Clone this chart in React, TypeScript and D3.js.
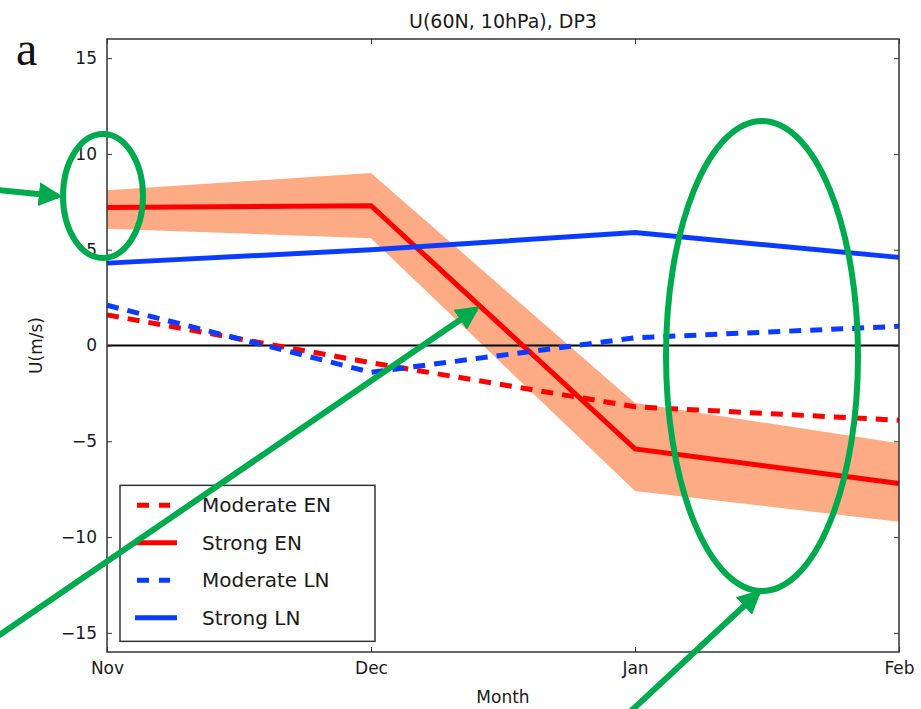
import React, { useEffect, useRef } from 'react';
import * as d3 from 'd3';

// data
const months = ['Nov', 'Dec', 'Jan', 'Feb'];
const moderateEN = [1.6, -0.9, -3.2, -3.9];
const strongEN = [7.2, 7.3, -5.4, -7.2];
const strongENUpper = [8.1, 9.0, -3.0, -5.1];
const strongENLower = [6.1, 5.6, -7.6, -9.2];
const moderateLN = [2.1, -1.4, 0.4, 1.0];
const strongLN = [4.3, 5.0, 5.9, 4.6];
const yTicks = [-15, -10, -5, 0, 5, 10, 15];

const RED = '#ff0000';
const BLUE = '#0a3cff';
const BAND = '#fdab85';
const GREEN = '#00ab4e';
const FONT = 'DejaVu Sans, sans-serif';

export default function App() {
  const ref = useRef<SVGSVGElement>(null);

  useEffect(() => {
    const svg = d3.select(ref.current);
    svg.selectAll('*').remove();

    const margin = { top: 39, right: 22, bottom: 57, left: 107 };
    const width = 921 - margin.left - margin.right;
    const height = 709 - margin.top - margin.bottom;

    const x = d3.scaleLinear().domain([0, months.length - 1]).range([0, width]);
    const y = d3.scaleLinear().domain([-16, 16]).range([height, 0]);

    const g = svg.append('g').attr('transform', `translate(${margin.left},${margin.top})`);

    // spread band of Strong EN
    const area = d3.area<number>()
      .x((d, i) => x(i))
      .y0((d, i) => y(strongENLower[i]))
      .y1((d) => y(d));
    g.append('path').datum(strongENUpper).attr('d', area).attr('fill', BAND);

    // zero line
    g.append('line')
      .attr('x1', 0).attr('x2', width)
      .attr('y1', y(0)).attr('y2', y(0))
      .attr('stroke', '#000').attr('stroke-width', 2);

    const line = d3.line<number>().x((d, i) => x(i)).y((d) => y(d));
    const series = [
      { name: 'Moderate EN', values: moderateEN, color: RED, dash: '12 9' },
      { name: 'Strong EN', values: strongEN, color: RED, dash: null },
      { name: 'Moderate LN', values: moderateLN, color: BLUE, dash: '12 9' },
      { name: 'Strong LN', values: strongLN, color: BLUE, dash: null },
    ];
    series.forEach((s) => {
      g.append('path').datum(s.values).attr('d', line)
        .attr('fill', 'none').attr('stroke', s.color).attr('stroke-width', 5)
        .attr('stroke-dasharray', s.dash);
    });

    // axes, inward ticks on all sides
    const axisStyle = (sel: any) => {
      sel.select('.domain').remove();
      sel.selectAll('text').attr('font-family', FONT).attr('font-size', 17).attr('fill', '#1a1a1a');
      sel.selectAll('line').attr('stroke', '#333');
    };
    g.append('g').attr('transform', `translate(0,${height})`)
      .call(d3.axisBottom(x).tickValues([0, 1, 2, 3]).tickFormat((d: any) => months[d]).tickSizeInner(-5).tickPadding(10))
      .call(axisStyle);
    g.append('g')
      .call(d3.axisTop(x).tickValues([0, 1, 2, 3]).tickFormat(() => '').tickSizeInner(-5))
      .call(axisStyle);
    g.append('g')
      .call(d3.axisLeft(y).tickValues(yTicks).tickFormat((d: any) => (d < 0 ? '\u2212' + Math.abs(d) : String(d))).tickSizeInner(-5).tickPadding(10))
      .call(axisStyle);
    g.append('g').attr('transform', `translate(${width},0)`)
      .call(d3.axisRight(y).tickValues(yTicks).tickFormat(() => '').tickSizeInner(-5))
      .call(axisStyle);

    g.append('rect').attr('width', width).attr('height', height)
      .attr('fill', 'none').attr('stroke', '#333').attr('stroke-width', 1.5);

    // labels
    svg.append('text').attr('x', margin.left + width / 2).attr('y', 28)
      .attr('text-anchor', 'middle').attr('font-family', FONT).attr('font-size', 19).attr('fill', '#1a1a1a')
      .text('U(60N, 10hPa), DP3');
    svg.append('text').attr('x', margin.left + width / 2).attr('y', 703)
      .attr('text-anchor', 'middle').attr('font-family', FONT).attr('font-size', 17).attr('fill', '#1a1a1a')
      .text('Month');
    svg.append('text').attr('transform', `translate(42,${margin.top + y(0)}) rotate(-90)`)
      .attr('text-anchor', 'middle').attr('font-family', FONT).attr('font-size', 17).attr('fill', '#1a1a1a')
      .text('U(m/s)');
    svg.append('text').attr('x', 16).attr('y', 65)
      .attr('font-family', 'Liberation Serif, serif').attr('font-size', 48).attr('fill', '#111')
      .text('a');

    // legend
    const lg = g.append('g').attr('transform', `translate(13,${y(-7.3)})`);
    lg.append('rect').attr('width', 255).attr('height', 156)
      .attr('fill', '#fff').attr('stroke', '#333').attr('stroke-width', 1.5);
    series.forEach((s, i) => {
      const row = lg.append('g').attr('transform', `translate(0,${20 + i * 37.5})`);
      row.append('line').attr('x1', s.dash ? 17 : 15).attr('x2', s.dash ? 50 : 57).attr('y1', 0).attr('y2', 0)
        .attr('stroke', s.color).attr('stroke-width', 5)
        .attr('stroke-dasharray', s.dash ? '12 10' : null);
      row.append('text').attr('x', 82).attr('y', 7)
        .attr('font-family', FONT).attr('font-size', 20).attr('fill', '#1a1a1a')
        .text(s.name);
    });

    // green annotations
    const ann = svg.append('g').attr('stroke', GREEN).attr('fill', 'none').attr('stroke-width', 6);
    svg.append('defs').append('marker')
      .attr('id', 'arrow').attr('viewBox', '0 0 10 10').attr('refX', 8).attr('refY', 5)
      .attr('markerWidth', 4).attr('markerHeight', 4).attr('orient', 'auto')
      .append('path').attr('d', 'M0,0 L10,5 L0,10 Z').attr('fill', GREEN);
    ann.append('ellipse').attr('cx', 103).attr('cy', 196).attr('rx', 40).attr('ry', 62);
    ann.append('ellipse').attr('cx', 762).attr('cy', 356).attr('rx', 96).attr('ry', 235);
    const arrows = [
      [[-2, 190], [58, 196]],
      [[-2, 636], [476, 309]],
      [[630, 712], [758, 593]],
    ];
    arrows.forEach(([a, b]) => {
      ann.append('line').attr('x1', a[0]).attr('y1', a[1]).attr('x2', b[0]).attr('y2', b[1])
        .attr('marker-end', 'url(#arrow)');
    });
  }, []);

  return (
    <svg ref={ref} width={921} height={709}
      style={{ position: 'absolute', left: 0, top: 0, background: '#fff' }} />
  );
}
